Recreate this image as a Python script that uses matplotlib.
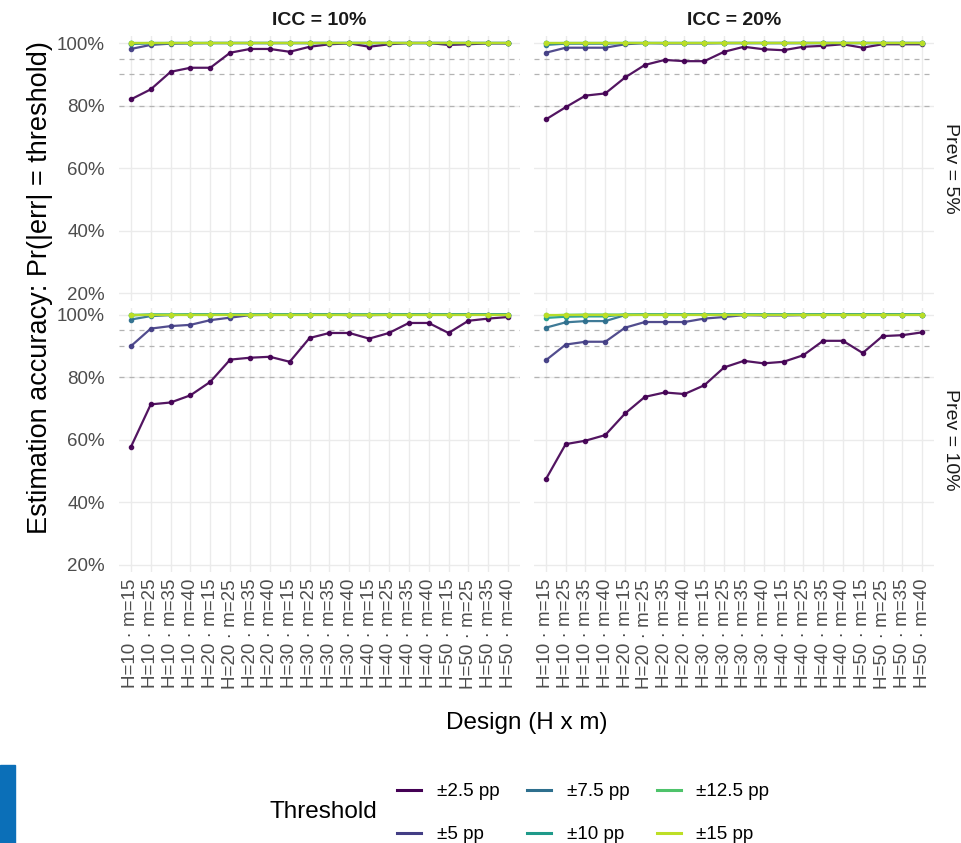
import matplotlib
matplotlib.use("Agg")
import matplotlib.pyplot as plt
from matplotlib.patches import Rectangle
from matplotlib.ticker import FuncFormatter
import numpy as np

plt.rcParams["font.family"] = ["Liberation Sans", "DejaVu Sans"]

# design grid: clusters H x cluster size m
H_values = [10, 20, 30, 40, 50]
m_values = [15, 25, 35, 40]
designs = [f"H={h} \u00b7 m={m}" for h in H_values for m in m_values]

thresholds = ["\u00b12.5 pp", "\u00b15 pp", "\u00b17.5 pp", "\u00b110 pp", "\u00b112.5 pp", "\u00b115 pp"]

# ICC = 10%, Prev = 5%
icc10_prev5_t2_5 = [0.820, 0.852, 0.908, 0.921, 0.921, 0.969, 0.981, 0.981, 0.972, 0.988,
                    0.996, 0.999, 0.988, 0.996, 1.000, 1.000, 0.994, 0.996, 0.999, 0.999]
icc10_prev5_t5 = [0.981, 0.994, 0.998, 0.999, 1.000, 1.000, 1.000, 1.000, 1.000, 1.000,
                  1.000, 1.000, 1.000, 1.000, 1.000, 1.000, 1.000, 1.000, 1.000, 1.000]
icc10_prev5_t7_5 = [0.997, 0.999, 1.000, 1.000, 1.000, 1.000, 1.000, 1.000, 1.000, 1.000,
                    1.000, 1.000, 1.000, 1.000, 1.000, 1.000, 1.000, 1.000, 1.000, 1.000]
icc10_prev5_t10 = [0.999, 1.000, 1.000, 1.000, 1.000, 1.000, 1.000, 1.000, 1.000, 1.000,
                   1.000, 1.000, 1.000, 1.000, 1.000, 1.000, 1.000, 1.000, 1.000, 1.000]
icc10_prev5_t12_5 = [1.000, 1.000, 1.000, 1.000, 1.000, 1.000, 1.000, 1.000, 1.000, 1.000,
                     1.000, 1.000, 1.000, 1.000, 1.000, 1.000, 1.000, 1.000, 1.000, 1.000]
icc10_prev5_t15 = [1.000, 1.000, 1.000, 1.000, 1.000, 1.000, 1.000, 1.000, 1.000, 1.000,
                   1.000, 1.000, 1.000, 1.000, 1.000, 1.000, 1.000, 1.000, 1.000, 1.000]

# ICC = 20%, Prev = 5%
icc20_prev5_t2_5 = [0.756, 0.795, 0.832, 0.839, 0.890, 0.930, 0.946, 0.942, 0.942, 0.972,
                    0.988, 0.980, 0.977, 0.988, 0.991, 0.996, 0.985, 0.996, 0.996, 0.996]
icc20_prev5_t5 = [0.969, 0.985, 0.985, 0.985, 0.996, 1.000, 0.999, 0.999, 0.999, 1.000,
                  1.000, 1.000, 1.000, 1.000, 1.000, 1.000, 1.000, 1.000, 1.000, 1.000]
icc20_prev5_t7_5 = [0.994, 0.998, 0.998, 0.998, 1.000, 1.000, 1.000, 1.000, 1.000, 1.000,
                    1.000, 1.000, 1.000, 1.000, 1.000, 1.000, 1.000, 1.000, 1.000, 1.000]
icc20_prev5_t10 = [0.999, 1.000, 1.000, 1.000, 1.000, 1.000, 1.000, 1.000, 1.000, 1.000,
                   1.000, 1.000, 1.000, 1.000, 1.000, 1.000, 1.000, 1.000, 1.000, 1.000]
icc20_prev5_t12_5 = [1.000, 1.000, 1.000, 1.000, 1.000, 1.000, 1.000, 1.000, 1.000, 1.000,
                     1.000, 1.000, 1.000, 1.000, 1.000, 1.000, 1.000, 1.000, 1.000, 1.000]
icc20_prev5_t15 = [1.000, 1.000, 1.000, 1.000, 1.000, 1.000, 1.000, 1.000, 1.000, 1.000,
                   1.000, 1.000, 1.000, 1.000, 1.000, 1.000, 1.000, 1.000, 1.000, 1.000]

# ICC = 10%, Prev = 10%
icc10_prev10_t2_5 = [0.577, 0.713, 0.719, 0.742, 0.785, 0.856, 0.862, 0.865, 0.849, 0.925,
                     0.941, 0.941, 0.923, 0.941, 0.973, 0.973, 0.941, 0.980, 0.987, 0.992]
icc10_prev10_t5 = [0.899, 0.955, 0.963, 0.967, 0.982, 0.990, 0.998, 0.999, 0.999, 1.000,
                   1.000, 0.998, 0.998, 0.999, 1.000, 1.000, 1.000, 1.000, 1.000, 1.000]
icc10_prev10_t7_5 = [0.984, 0.995, 0.998, 1.000, 1.000, 1.000, 1.000, 1.000, 1.000, 1.000,
                     1.000, 1.000, 1.000, 1.000, 1.000, 1.000, 1.000, 1.000, 1.000, 1.000]
icc10_prev10_t10 = [0.997, 1.000, 1.000, 1.000, 1.000, 1.000, 1.000, 1.000, 1.000, 1.000,
                    1.000, 1.000, 1.000, 1.000, 1.000, 1.000, 1.000, 1.000, 1.000, 1.000]
icc10_prev10_t12_5 = [0.999, 1.000, 1.000, 1.000, 1.000, 1.000, 1.000, 1.000, 1.000, 1.000,
                      1.000, 1.000, 1.000, 1.000, 1.000, 1.000, 1.000, 1.000, 1.000, 1.000]
icc10_prev10_t15 = [1.000, 1.000, 1.000, 1.000, 1.000, 1.000, 1.000, 1.000, 1.000, 1.000,
                    1.000, 1.000, 1.000, 1.000, 1.000, 1.000, 1.000, 1.000, 1.000, 1.000]

# ICC = 20%, Prev = 10%
icc20_prev10_t2_5 = [0.474, 0.586, 0.597, 0.615, 0.684, 0.737, 0.751, 0.746, 0.774, 0.831,
                     0.852, 0.844, 0.849, 0.870, 0.916, 0.916, 0.877, 0.931, 0.934, 0.943]
icc20_prev10_t5 = [0.854, 0.904, 0.913, 0.913, 0.958, 0.976, 0.976, 0.976, 0.987, 0.992,
                   0.998, 0.997, 0.997, 0.998, 1.000, 1.000, 1.000, 1.000, 1.000, 1.000]
icc20_prev10_t7_5 = [0.958, 0.975, 0.979, 0.979, 0.998, 1.000, 1.000, 1.000, 1.000, 1.000,
                     1.000, 1.000, 1.000, 1.000, 1.000, 1.000, 1.000, 1.000, 1.000, 1.000]
icc20_prev10_t10 = [0.989, 0.993, 0.994, 0.994, 1.000, 1.000, 1.000, 1.000, 1.000, 1.000,
                    1.000, 1.000, 1.000, 1.000, 1.000, 1.000, 1.000, 1.000, 1.000, 1.000]
icc20_prev10_t12_5 = [0.997, 0.999, 1.000, 1.000, 1.000, 1.000, 1.000, 1.000, 1.000, 1.000,
                      1.000, 1.000, 1.000, 1.000, 1.000, 1.000, 1.000, 1.000, 1.000, 1.000]
icc20_prev10_t15 = [1.000, 1.000, 1.000, 1.000, 1.000, 1.000, 1.000, 1.000, 1.000, 1.000,
                    1.000, 1.000, 1.000, 1.000, 1.000, 1.000, 1.000, 1.000, 1.000, 1.000]

panels = {
    (0, 0): [icc10_prev5_t2_5, icc10_prev5_t5, icc10_prev5_t7_5, icc10_prev5_t10, icc10_prev5_t12_5, icc10_prev5_t15],
    (0, 1): [icc20_prev5_t2_5, icc20_prev5_t5, icc20_prev5_t7_5, icc20_prev5_t10, icc20_prev5_t12_5, icc20_prev5_t15],
    (1, 0): [icc10_prev10_t2_5, icc10_prev10_t5, icc10_prev10_t7_5, icc10_prev10_t10, icc10_prev10_t12_5, icc10_prev10_t15],
    (1, 1): [icc20_prev10_t2_5, icc20_prev10_t5, icc20_prev10_t7_5, icc20_prev10_t10, icc20_prev10_t12_5, icc20_prev10_t15],
}
col_titles = ["ICC = 10%", "ICC = 20%"]
row_titles = ["Prev = 5%", "Prev = 10%"]
ref_lines = [0.80, 0.90, 0.95]

colors = [plt.cm.viridis(v) for v in np.linspace(0, 0.9, 6)]

W, H = 961, 843
fig = plt.figure(figsize=(W / 100, H / 100), dpi=100)

# panel boxes in pixels (left, top, right, bottom)
col_x = [(119, 520), (534, 934)]
row_y = [(36, 300.5), (307.5, 572)]

grid_col = "#EBEBEB"
txt_col = "#4D4D4D"
x = np.arange(1, len(designs) + 1)
handles = []

for (r, c), series in panels.items():
    x0, x1 = col_x[c]
    y0, y1 = row_y[r]
    ax = fig.add_axes([x0 / W, 1 - y1 / H, (x1 - x0) / W, (y1 - y0) / H])
    for s in ax.spines.values():
        s.set_visible(False)
    ax.set_xlim(0.4, len(designs) + 0.6)
    ax.set_ylim(0.1776, 1.0224)
    ax.set_yticks([0.2, 0.4, 0.6, 0.8, 1.0])
    ax.set_xticks(x)
    ax.grid(True, color=grid_col, linewidth=1.0, zorder=0)
    ax.set_axisbelow(True)
    ax.tick_params(length=0, colors=txt_col, labelsize=13.5)
    for ref in ref_lines:
        ax.axhline(ref, color="#B3B3B3", linestyle=(0, (4, 4)), linewidth=0.9, zorder=1)

    for i, vals in enumerate(series):
        ln, = ax.plot(x, vals, color=colors[i], linewidth=1.6, marker="o", markersize=3,
                      alpha=0.92, zorder=2 + i, label=thresholds[i])
        if r == 0 and c == 0:
            handles.append(ln)

    if c == 0:
        ax.yaxis.set_major_formatter(FuncFormatter(lambda v, p: f"{v * 100:.0f}%"))
        ax.tick_params(axis="y", pad=10)
    else:
        ax.set_yticklabels([])
    if r == 1:
        ax.set_xticklabels(designs, rotation=90, ha="center", va="top")
        ax.tick_params(axis="x", pad=5)
    else:
        ax.set_xticklabels([])

    if r == 0:
        ax.set_title(col_titles[c], fontsize=14, fontweight="bold", color="#1A1A1A", pad=8)
    if c == 1:
        ax.text(1.02, 0.5, row_titles[r], transform=ax.transAxes, rotation=-90,
                ha="left", va="center", fontsize=14, color="#1A1A1A")

fig.text(40 / W, 1 - 288 / H, "Estimation accuracy: Pr(|err| = threshold)", rotation=90,
         ha="center", va="center", fontsize=19.5, color="black")
fig.text(526.5 / W, 1 - 723 / H, "Design (H x m)", ha="center", va="center",
         fontsize=17.5, color="black")

fig.text(270 / W, 1 - 812 / H, "Threshold", ha="left", va="center", fontsize=17.5)
leg = fig.legend(handles=[plt.Line2D([], [], color=h.get_color(), linewidth=2.2) for h in handles],
                 labels=thresholds, ncol=3, loc="center left",
                 bbox_to_anchor=(397 / W, 1 - 813 / H), frameon=False, fontsize=13.5,
                 handlelength=1.28, handletextpad=0.85, columnspacing=1.45,
                 labelspacing=1.38, borderpad=0, borderaxespad=0)

# blue slide edge at the bottom left
fig.patches.append(Rectangle((0, 0), 15 / W, 78 / H, transform=fig.transFigure,
                             color="#0B6FB8", zorder=0))

fig.savefig("out.png", dpi=100, facecolor="white")
